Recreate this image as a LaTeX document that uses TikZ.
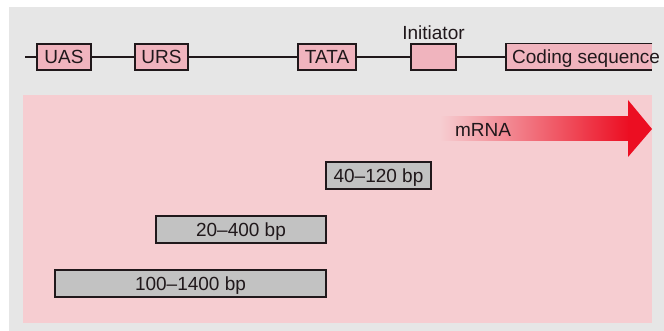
\documentclass[tikz,border=0pt]{standalone}
\usepackage{fontspec}
\setmainfont{Liberation Sans}
\usepackage{xcolor}
\usepackage{tikz}
\definecolor{panel}{RGB}{230,230,230}
\definecolor{pinkbg}{RGB}{246,205,209}
\definecolor{boxpink}{RGB}{240,180,190}
\definecolor{spangray}{RGB}{194,194,194}
\definecolor{ink}{RGB}{32,24,27}
\definecolor{mred}{RGB}{236,14,34}

\begin{document}
\begin{tikzpicture}[x=1pt,y=-1pt,font=\fontsize{19}{22}\selectfont,
  el/.style={draw=ink,line width=1.4pt,fill=boxpink,text=ink,minimum height=26pt,
    inner sep=0pt,text depth=0pt},
  bpbox/.style={draw=ink,line width=1.2pt,fill=spangray,text=ink,minimum height=27pt,
    inner sep=0pt,text depth=0pt}]
\useasboundingbox (0,0) rectangle (664,331);
\fill[panel] (9,7) rectangle (664,331);
\fill[pinkbg] (23,95) rectangle (652,323);
% promoter elements
\coordinate (start) at (25,57);
\node[el,minimum width=54pt] (uas) at (64,57) {UAS};
\node[el,minimum width=53pt] (urs) at (161.5,57) {URS};
\node[el,minimum width=58pt] (tata) at (327,57) {TATA};
\node[el,minimum width=45pt] (init) at (433.5,57) {};
\node[text=ink,anchor=base,inner sep=0pt] (initlbl) at (433.5,40) {Initiator};
\node[fill=boxpink,minimum height=26pt,minimum width=146pt,inner sep=0pt,anchor=west] (coding) at (506,57) {};
\draw[ink,line width=1.4pt] (coding.north east) -- (coding.north west) -- (coding.south west) -- (coding.south east);
\node[text=ink,anchor=base west,inner sep=0pt] (codetxt) at (512,64) {Coding sequence};
\draw[ink,line width=1.2pt] (start) -- (uas) -- (urs) -- (tata) -- (init) -- (coding);
% transcript
\shade[left color=pinkbg,right color=mred] (440,117) rectangle (629,141);
\fill[mred] (628,100) -- (652,129) -- (628,157) -- cycle;
\node[text=ink,inner sep=0pt,text depth=0pt] (mrna) at (483,130) {mRNA};
% distances
\node[bpbox,minimum width=105pt] (d40) at (378.5,175.5) {40--120 bp};
\node[bpbox,minimum width=170pt] (d20) at (241,229.5) {20--400 bp};
\node[bpbox,minimum width=271pt] (d100) at (190.5,283.5) {100--1400 bp};
\end{tikzpicture}
\end{document}
